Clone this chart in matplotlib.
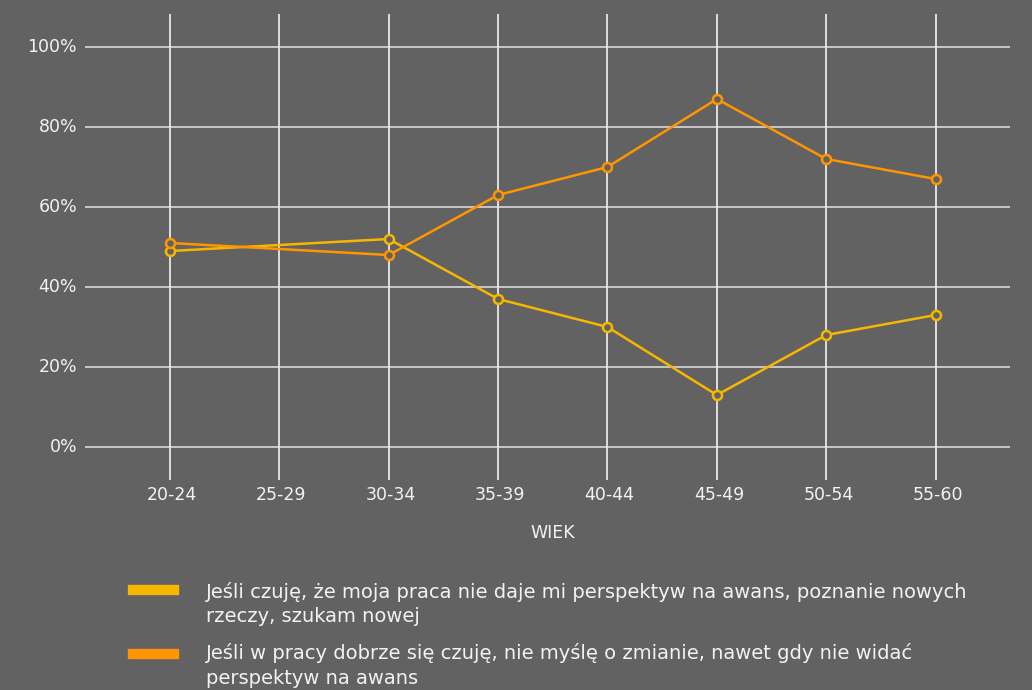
import matplotlib.pyplot as plt
import numpy as np

categories = ['20-24', '25-29', '30-34', '35-39', '40-44', '45-49', '50-54', '55-60']
# 25-29 has no data point, the line just connects 20-24 and 30-34
seeking_new = [49, None, 52, 37, 30, 13, 28, 33]
staying = [51, None, 48, 63, 70, 87, 72, 67]
y_ticks = [0, 20, 40, 60, 80, 100]
labels = ['Jeśli czuję, że moja praca nie daje mi perspektyw na awans, poznanie nowych\nrzeczy, szukam nowej',
          'Jeśli w pracy dobrze się czuję, nie myślę o zmianie, nawet gdy nie widać\nperspektyw na awans']

bg = '#626262'
yellow = '#F6B700'
orange = '#FF9500'
txt = '#f2f2f2'

plt.rcParams['font.family'] = ['DejaVu Sans']

fig = plt.figure(figsize=(10.32, 6.9), dpi=100, facecolor=bg)
ax = fig.add_axes([85 / 1032, 1 - 480 / 690, 925 / 1032, 466 / 690])
ax.set_facecolor(bg)
ax.set_xlim(-0.777, 7.68)
ax.set_ylim(-8.25, 108.25)

for y in y_ticks:
    ax.axhline(y, color='#cfcfcf', lw=1.3, zorder=1)
for i in range(len(categories)):
    ax.axvline(i, color='#e8e8e8', lw=1.3, zorder=1)

for vals, col in [(seeking_new, yellow), (staying, orange)]:
    xs = [i for i, v in enumerate(vals) if v is not None]
    ys = [v for v in vals if v is not None]
    ax.plot(xs, ys, color=col, lw=1.8, marker='o', ms=6.5, mfc=bg, mec=col, mew=1.8, zorder=3)

for s in ax.spines.values():
    s.set_visible(False)
ax.set_xticks([])
ax.set_yticks([])

# tick labels outside the axes
for y in y_ticks:
    ax.text(-0.85, y, f'{y}%', ha='right', va='center', color=txt, fontsize=12.5)
for i, c in enumerate(categories):
    fig.text((172 + i * 109.4) / 1032, 1 - 495 / 690, c, ha='center', va='center', color=txt, fontsize=12.5)
fig.text(553 / 1032, 1 - 533 / 690, 'WIEK', ha='center', va='center', color=txt, fontsize=12.5)

# legend
line_y = [[592, 617], [653, 679]]
for k, (lab, col) in enumerate(zip(labels, [yellow, orange])):
    ytop = 1 - (589 + k * 64) / 690
    fig.patches.append(plt.Rectangle((128 / 1032, ytop - 4.5 / 690), 50 / 1032, 9 / 690,
                                     transform=fig.transFigure, color=col))
    for part, py in zip(lab.split('\n'), line_y[k]):
        fig.text(206 / 1032, 1 - py / 690, part, ha='left', va='center', color=txt, fontsize=14)

fig.savefig('out.png', dpi=100, facecolor=bg)
